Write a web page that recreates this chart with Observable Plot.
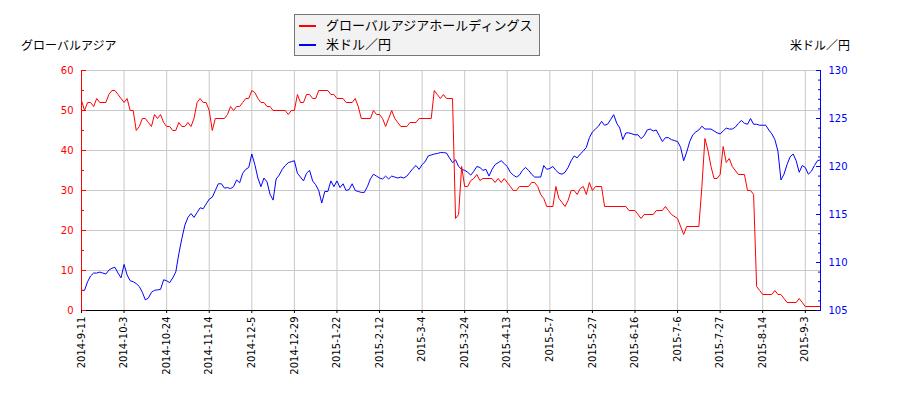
<!DOCTYPE html>
<html><head><meta charset="utf-8">
<script src="https://cdn.jsdelivr.net/npm/d3@7"></script>
<script src="https://cdn.jsdelivr.net/npm/@observablehq/plot@0.6"></script>
<style>
body{margin:0;background:#fff;font-family:"DejaVu Sans","Noto Sans CJK JP",sans-serif;}
#wrap{position:relative;width:900px;height:400px;}
#head{position:relative;width:900px;height:60px;}
.ttl{position:absolute;font-size:12px;color:#000;top:38px;line-height:16px;white-space:nowrap}
#legend{position:absolute;left:294px;top:14px;width:244px;height:40px;background:#f2f2f2;border:1px solid #777;}
.row{position:absolute;left:4px;height:16px;font-size:13px;line-height:16px;white-space:nowrap;color:#000}
.sw{display:inline-block;width:17px;height:2px;vertical-align:middle;margin-right:10px;position:relative;top:-1px}
</style></head>
<body>
<div id="wrap">
  <div id="head">
    <div class="ttl" style="left:21px">グローバルアジア</div>
    <div class="ttl" style="right:50px">米ドル／円</div>
    <div id="legend">
      <div class="row" style="top:3px"><span class="sw" style="background:#ff0000"></span>グローバルアジアホールディングス</div>
      <div class="row" style="top:22px"><span class="sw" style="background:#0000ff"></span>米ドル／円</div>
    </div>
  </div>
  <div id="chart"></div>
</div>
<script>
// x-axis tick labels (every 14 trading days)
const tickLabels = ["2014-9-11","2014-10-3","2014-10-24","2014-11-14","2014-12-5","2014-12-29","2015-1-22","2015-2-12","2015-3-4","2015-3-24","2015-4-13","2015-5-7","2015-5-27","2015-6-16","2015-7-6","2015-7-27","2015-8-14","2015-9-3"];
const lastDay = 243;
const leftTicks = [0,10,20,30,40,50,60];
const leftMinor = [5,15,25,35,45,55];
const rightTicks = [105,110,115,120,125,130];
const rightMinor = [106,107,108,109,111,112,113,114,116,117,118,119,121,122,123,124,126,127,128,129];

// Global Asia Holdings share price (trading-day index, value)
const redDay = [0,1,2,3,4,5,6,8,9,10,11,12,13,14,15,16,17,18,19,20,21,22,23,24,25,26,27,28,29,30,31,32,33,34,35,36,37,38,39,40,41,42,43,44,47,48,49,50,51,52,53,54,55,56,57,58,59,60,61,62,63,67,68,69,70,71,72,73,74,75,76,77,78,81,82,83,84,86,87,89,90,91,92,95,96,97,98,99,100,101,102,103,104,105,107,108,110,111,115,116,117,118,119,120,122,123,124,125,126,127,128,129,130,131,132,135,136,137,138,139,140,141,142,143,144,147,148,149,150,151,152,153,155,156,157,158,159,160,161,162,163,164,165,166,167,168,169,171,172,179,180,182,184,185,188,189,191,192,193,194,196,198,199,203,204,205,206,207,208,209,210,211,212,213,214,216,218,219,220,221,222,223,224,227,228,229,230,231,232,235,236,237,238,243];
const redVal = [52.5,50,52,52,51,53,52,52,54,55,55,54,53,52,53,50,50,45,46,48,48,47,46,49,48,49,47,46,46,45,45,47,46,46,47,46,48,52,53,52,52,50,45,48,48,49,51,50,51,51,52,53,53,55,54.5,53,52,52,51,51,50,50,49,50,50,54,52,52,54,54,53,53,55,55,54,54,53,53,52,52,53,51,48,48,50,49,49,48,46,48,50,48,47,46,46,47,47,48,48,55,54,53,54,53,53,23,24,36,31,31,32.5,33,34,32.5,33,33,32,33,32,33,32,31,30,30,31,31,32,32,31,29,28,26,26,31,28,27,26,27.5,30,30,29,30.5,31,29,32,30,31,31,26,26,25,25,23,24,24,25,25,26,25,24,23,19,21,21,31,43,40,36,33,33,34,41,37,38,36,34,34,30,30,29,6,5,4,4,5,4,4,3,2,2,3,2,1,1];

// USD/JPY, one value per trading day (index 0..243)
const blueVal = [
  107.1,107.1,108.0,108.6,108.9,108.9,109.0,108.9,108.8,109.2,
  109.4,109.5,108.9,108.4,109.8,108.7,108.1,108.0,107.8,107.5,
  106.9,106.1,106.3,106.9,107.1,107.15,107.2,108.2,108.1,107.9,
  108.4,109.0,110.9,112.5,113.9,114.7,115.1,114.7,115.2,115.7,
  115.6,116.1,116.6,116.8,117.5,118.2,118.2,117.75,117.8,117.7,
  117.9,118.6,118.3,119.3,119.7,119.9,121.3,120.2,118.8,117.9,
  118.8,118.4,117.1,116.5,118.7,119.1,119.7,120.1,120.4,120.5,
  120.6,119.3,118.9,118.5,119.3,119.6,118.5,118.1,117.5,116.2,
  117.4,117.4,118.5,117.9,118.5,117.8,118.2,117.5,117.6,118.2,
  117.5,117.4,117.3,117.3,117.9,118.7,119.2,119.0,118.8,118.7,
  119.0,118.7,119.0,118.9,118.8,118.9,118.8,119.0,119.4,119.8,
  120.1,119.7,120.2,120.5,121.1,121.2,121.3,121.35,121.45,121.45,
  121.4,120.9,120.4,120.7,120.0,119.7,119.6,119.4,119.1,119.5,
  120.0,119.9,119.6,119.7,119.0,119.7,120.2,120.4,120.6,120.3,
  120.0,119.4,119.1,118.9,119.1,119.6,119.9,119.6,119.2,118.9,
  118.9,118.9,120.1,119.7,119.8,120.0,119.6,119.3,119.2,119.4,
  119.9,120.6,121.1,120.9,121.3,121.6,122.0,123.0,123.6,123.9,
  124.2,124.7,124.3,124.4,124.9,125.4,124.5,124.0,122.8,123.5,
  123.5,123.4,123.3,123.3,122.9,123.2,123.8,123.9,123.7,123.8,
  123.2,122.6,123.0,123.0,122.8,122.7,122.6,122.0,120.6,121.5,
  122.6,123.3,123.6,123.8,124.2,123.9,123.9,123.9,123.7,123.5,
  123.4,123.7,124.0,123.9,123.9,124.1,124.5,124.8,124.5,124.4,
  125.0,124.4,124.4,124.3,124.3,124.3,123.8,123.4,122.8,121.6,
  118.6,119.2,120.2,121.0,121.3,120.6,119.4,120.1,119.9,119.2,
  119.5,120.1,120.6,120.7
];

const tickIdx = tickLabels.map((_, k) => k * 14);
const toLeft = v => (v - 105) * 60 / 25;
const redData = redDay.map((d, k) => ({i: d, v: redVal[k]}));
const blueData = blueVal.map((v, i) => ({i, v: toLeft(v)}));

const grid = "#c8c8c8";
const chart = Plot.plot({
  width: 900, height: 340,
  marginTop: 10, marginBottom: 90, marginLeft: 81, marginRight: 80,
  x: {type: "linear", domain: [0, lastDay]},
  y: {domain: [0, 60]},
  style: {fontFamily: "DejaVu Sans", fontSize: "10px", background: "white", overflow: "visible"},
  marks: [
    Plot.gridX(tickIdx, {stroke: grid, strokeOpacity: 1}),
    Plot.gridY(leftTicks, {stroke: grid, strokeOpacity: 1}),
    Plot.line(blueData, {x: "i", y: "v", stroke: "#0000ff", strokeWidth: 1}),
    Plot.line(redData, {x: "i", y: "v", stroke: "#ff0000", strokeWidth: 1}),
    Plot.ruleY([0], {stroke: "black"}),
    Plot.ruleX([0], {stroke: "#ff0000"}),
    Plot.ruleX([lastDay], {stroke: "#0000ff"}),
    // left axis
    Plot.axisY(leftTicks, {anchor: "left", tickSize: 0, tickPadding: 8, color: "#ff0000", label: null}),
    Plot.axisY(leftTicks, {anchor: "left", tickSize: -5, tickFormat: () => "", color: "#ff0000", label: null}),
    Plot.axisY(leftMinor, {anchor: "left", tickSize: -3, tickFormat: () => "", color: "#ff0000", label: null}),
    // right axis
    Plot.axisY(rightTicks.map(toLeft), {anchor: "right", tickSize: 0, tickPadding: 8, color: "#0000ff", label: null,
      tickFormat: d => String(Math.round(105 + d * 25 / 60))}),
    Plot.axisY(rightTicks.map(toLeft), {anchor: "right", tickSize: -5, tickFormat: () => "", color: "#0000ff", label: null}),
    Plot.axisY(rightMinor.map(toLeft), {anchor: "right", tickSize: -3, tickFormat: () => "", color: "#0000ff", label: null}),
    // x axis
    Plot.axisX(tickIdx, {anchor: "bottom", tickSize: 3, tickPadding: 3, tickRotate: -90, color: "black", label: null,
      tickFormat: d => tickLabels[tickIdx.indexOf(d)]})
  ]
});
document.getElementById("chart").appendChild(chart);
</script>
</body></html>
